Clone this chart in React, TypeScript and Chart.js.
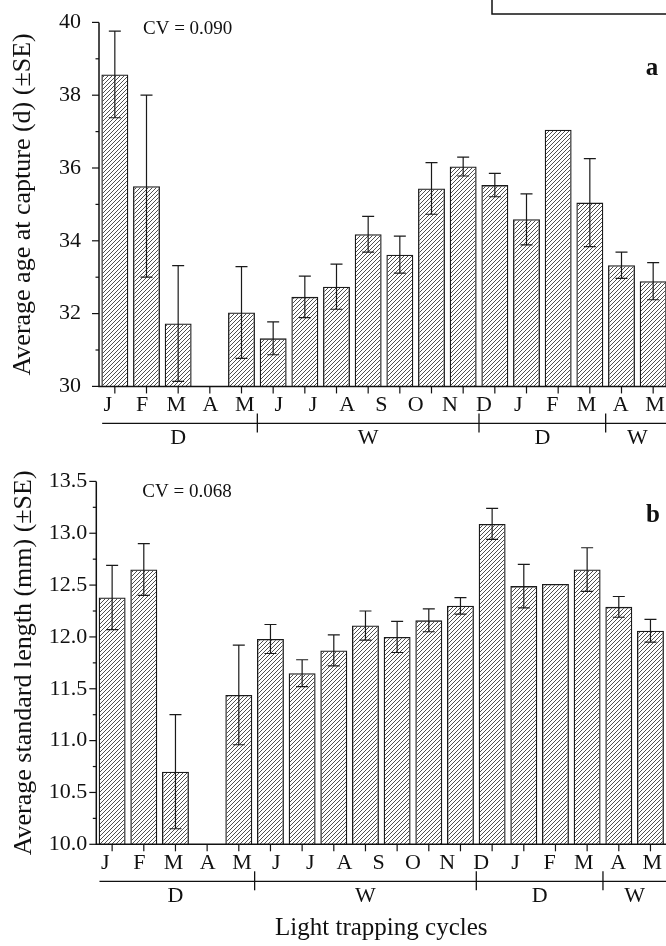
import React, { useEffect, useRef } from 'react';
import { Chart, registerables } from 'chart.js';

Chart.register(...registerables);

// ---- data ----
const barSlots = ['J', 'F', 'M', 'A', 'M', 'J', 'J', 'A', 'S', 'O', 'N', 'D', 'J', 'F', 'M', 'A', 'M', 'J'];
const monthLabels = ['J', 'F', 'M', 'A', 'M', 'J', 'J', 'A', 'S', 'O', 'N', 'D', 'J', 'F', 'M', 'A', 'M'];

const ageMean = [38.57, 35.5, 31.73, null, 32.03, 31.32, 32.46, 32.74, 34.18, 33.62, 35.44, 36.04, 35.53, 34.59, 37.05, 35.05, 33.33, 32.89];
const ageSE = [1.19, 2.5, 1.59, null, 1.26, 0.45, 0.57, 0.62, 0.49, 0.51, 0.71, 0.26, 0.32, 0.7, null, 1.21, 0.36, 0.51];

const lengthMean = [12.38, 12.65, 10.7, null, 11.44, 11.98, 11.65, 11.87, 12.11, 12.0, 12.16, 12.3, 13.09, 12.49, 12.51, 12.65, 12.29, 12.06];
const lengthSE = [0.31, 0.25, 0.55, null, 0.48, 0.14, 0.13, 0.15, 0.14, 0.15, 0.11, 0.08, 0.15, 0.21, null, 0.21, 0.1, 0.11];

const ageTickLabels = ['30', '32', '34', '36', '38', '40'];
const lengthTickLabels = ['10.0', '10.5', '11.0', '11.5', '12.0', '12.5', '13.0', '13.5'];

const seasonLabels = ['D', 'W', 'D', 'W'];
const seasonFirst = [0, 5, 12, 16];
const seasonLast = [4, 11, 15, 17];

const SERIF = "'Liberation Serif', 'Times New Roman', Times, serif";
const INK = '#111';

function makeHatch(ctx: CanvasRenderingContext2D) {
  const c = document.createElement('canvas');
  c.width = 4;
  c.height = 4;
  const g = c.getContext('2d')!;
  g.strokeStyle = '#3c3c3c';
  g.lineWidth = 0.9;
  g.beginPath();
  g.moveTo(0, 4); g.lineTo(4, 0);
  g.moveTo(-1, 1); g.lineTo(1, -1);
  g.moveTo(3, 5); g.lineTo(5, 3);
  g.stroke();
  return ctx.createPattern(c, 'repeat')!;
}

type Panel = {
  mean: (number | null)[];
  se: (number | null)[];
  min: number;
  max: number;
  step: number;
  tickLabels: string[];
  fmt: (v: number) => string;
  title: string;
  titlePad: number;
  tickPad: number;
  yWidth: number;
  pad: { top: number; right: number; bottom: number; left: number };
  cv: string;
  cvDx: number;
  cvDy: number;
  letter: string;
  letterX: number;
  letterY: number;
  box: boolean;
  xTitle: string | null;
  xTitleY: number;
};

const panelA: Panel = {
  mean: ageMean,
  se: ageSE,
  min: 30,
  max: 40,
  step: 1,
  tickLabels: ageTickLabels,
  fmt: (v) => (Math.abs(v - Math.round(v)) < 1e-6 ? String(Math.round(v)) : ''),
  title: 'Average age at capture (d) (±SE)',
  titlePad: 7.5,
  tickPad: 18,
  yWidth: 99,
  pad: { top: 22.4, right: 31, bottom: 43.6, left: 0 },
  cv: 'CV = 0.090',
  cvDx: 44,
  cvDy: 6.8,
  letter: 'a',
  letterX: 652,
  letterY: 68.5,
  box: true,
  xTitle: null,
  xTitleY: 0,
};

const panelB: Panel = {
  mean: lengthMean,
  se: lengthSE,
  min: 10,
  max: 13.5,
  step: 0.25,
  tickLabels: lengthTickLabels,
  fmt: (v) => (Math.abs(v * 2 - Math.round(v * 2)) < 1e-6 ? v.toFixed(1) : ''),
  title: 'Average standard length (mm) (±SE)',
  titlePad: 8.5,
  tickPad: 9,
  yWidth: 96.3,
  pad: { top: 21.4, right: 33.7, bottom: 71.7, left: 0 },
  cv: 'CV = 0.068',
  cvDx: 46,
  cvDy: 10.3,
  letter: 'b',
  letterX: 653,
  letterY: 55.5,
  box: false,
  xTitle: 'Light trapping cycles',
  xTitleY: 475,
};

function makePanel(canvas: HTMLCanvasElement, p: Panel) {
  const ctx0 = canvas.getContext('2d')!;
  const hatch = makeHatch(ctx0);

  const decor = {
    id: 'decor',
    afterDatasetsDraw(chart: any) {
      const { ctx, chartArea: a, scales } = chart;
      const x = scales.x;
      const y = scales.y;
      ctx.save();

      // error bars
      ctx.strokeStyle = '#1a1a1a';
      ctx.lineWidth = 1.2;
      p.mean.forEach((m, i) => {
        const se = p.se[i];
        if (m == null || se == null) return;
        const px = x.getPixelForValue(i);
        const t = y.getPixelForValue(m + se);
        const b = y.getPixelForValue(m - se);
        ctx.beginPath();
        ctx.moveTo(px, t); ctx.lineTo(px, b);
        ctx.moveTo(px - 6, t); ctx.lineTo(px + 6, t);
        ctx.moveTo(px - 6, b); ctx.lineTo(px + 6, b);
        ctx.stroke();
      });

      // axes
      ctx.strokeStyle = INK;
      ctx.lineWidth = 1.5;
      ctx.beginPath();
      ctx.moveTo(a.left, a.top);
      ctx.lineTo(a.left, a.bottom);
      ctx.lineTo(a.right + 20, a.bottom);
      ctx.stroke();

      // y ticks
      ctx.lineWidth = 1.2;
      y.ticks.forEach((t: any) => {
        const py = y.getPixelForValue(t.value);
        const major = t.label !== '' && t.label != null;
        const len = major ? 7 : 3.5;
        ctx.beginPath();
        ctx.moveTo(a.left - len, py);
        ctx.lineTo(a.left, py);
        ctx.stroke();
      });

      // x ticks at bar centres
      barSlots.forEach((_, i) => {
        const px = x.getPixelForValue(i);
        ctx.beginPath();
        ctx.moveTo(px, a.bottom);
        ctx.lineTo(px, a.bottom + 7);
        ctx.stroke();
      });

      // season grouping line
      const y0 = a.bottom + 37;
      ctx.lineWidth = 1.3;
      ctx.beginPath();
      ctx.moveTo(x.getPixelForValue(-0.4), y0);
      ctx.lineTo(a.right + 40, y0);
      ctx.stroke();
      for (let k = 1; k < seasonLabels.length; k++) {
        const px = (x.getPixelForValue(seasonLast[k - 1]) + x.getPixelForValue(seasonFirst[k])) / 2;
        ctx.beginPath();
        ctx.moveTo(px, y0 - 10);
        ctx.lineTo(px, y0 + 9);
        ctx.stroke();
      }
      ctx.fillStyle = INK;
      ctx.font = `22px ${SERIF}`;
      ctx.textAlign = 'center';
      ctx.textBaseline = 'middle';
      seasonLabels.forEach((s, k) => {
        const px = x.getPixelForValue((seasonFirst[k] + seasonLast[k]) / 2);
        ctx.fillText(s, px, y0 + 15);
      });

      // CV text
      ctx.font = `19px ${SERIF}`;
      ctx.textAlign = 'left';
      ctx.fillText(p.cv, a.left + p.cvDx, a.top + p.cvDy);

      // panel letter
      ctx.font = `bold 25px ${SERIF}`;
      ctx.textAlign = 'center';
      ctx.fillText(p.letter, p.letterX, p.letterY);

      // x title
      if (p.xTitle) {
        ctx.font = `25px ${SERIF}`;
        ctx.textBaseline = 'alphabetic';
        ctx.fillText(p.xTitle, (a.left + a.right) / 2, p.xTitleY);
      }

      // partial box at top right
      if (p.box) {
        ctx.lineWidth = 1.5;
        ctx.strokeRect(492, -10, 400, 24);
      }
      ctx.restore();
    },
  };

  return new Chart(canvas, {
    type: 'bar',
    data: {
      labels: barSlots,
      datasets: [
        {
          data: p.mean as any,
          backgroundColor: hatch as any,
          borderColor: '#1a1a1a',
          borderWidth: 1.3,
          borderSkipped: false,
          barPercentage: 0.85,
          categoryPercentage: 1,
          xAxisID: 'x',
          yAxisID: 'y',
        },
      ],
    },
    options: {
      responsive: false,
      animation: false,
      devicePixelRatio: 1,
      layout: { padding: p.pad },
      plugins: { legend: { display: false }, tooltip: { enabled: false }, title: { display: false } },
      scales: {
        x: { type: 'category', display: false, offset: true },
        x2: {
          type: 'linear',
          position: 'bottom',
          offset: false,
          min: -0.26,
          max: 16.41,
          grid: { display: false, drawTicks: false, offset: false },
          border: { display: false },
          afterBuildTicks: (s: any) => {
            s.ticks = monthLabels.map((_, i) => ({ value: i }));
          },
          afterFit: (s: any) => {
            s.height = 30;
            s.paddingLeft = 0;
            s.paddingRight = 0;
          },
          ticks: {
            autoSkip: false,
            maxRotation: 0,
            padding: 6,
            color: INK,
            font: { family: SERIF, size: 22 },
            callback: (_v: any, i: number) => monthLabels[i],
          },
        },
        y: {
          type: 'linear',
          position: 'left',
          min: p.min,
          max: p.max,
          grid: { display: false, drawTicks: false },
          border: { display: false },
          afterFit: (s: any) => {
            s.width = p.yWidth;
            s.paddingTop = 0;
            s.paddingBottom = 0;
          },
          ticks: {
            stepSize: p.step,
            maxTicksLimit: 100,
            autoSkip: false,
            padding: p.tickPad,
            color: INK,
            font: { family: SERIF, size: 22 },
            callback: (v: any) => {
              const s = p.fmt(Number(v));
              return p.tickLabels.includes(s) ? s : '';
            },
          },
          title: {
            display: true,
            text: p.title,
            color: INK,
            font: { family: SERIF, size: 26 },
            padding: { top: p.titlePad, bottom: 0 },
          },
        },
      },
    },
    plugins: [decor],
  } as any);
}

export default function App() {
  const topRef = useRef<HTMLCanvasElement>(null);
  const botRef = useRef<HTMLCanvasElement>(null);

  useEffect(() => {
    const c1 = makePanel(topRef.current!, panelA);
    const c2 = makePanel(botRef.current!, panelB);
    return () => {
      c1.destroy();
      c2.destroy();
    };
  }, []);

  return (
    <div
      style={{
        position: 'fixed',
        left: 0,
        top: 0,
        width: 666,
        height: 946,
        overflow: 'hidden',
        background: '#fff',
      }}
    >
      <canvas
        ref={topRef}
        width={700}
        height={460}
        style={{ position: 'absolute', left: 0, top: 0, width: 700, height: 460 }}
      />
      <canvas
        ref={botRef}
        width={700}
        height={486}
        style={{ position: 'absolute', left: 0, top: 460, width: 700, height: 486 }}
      />
    </div>
  );
}
